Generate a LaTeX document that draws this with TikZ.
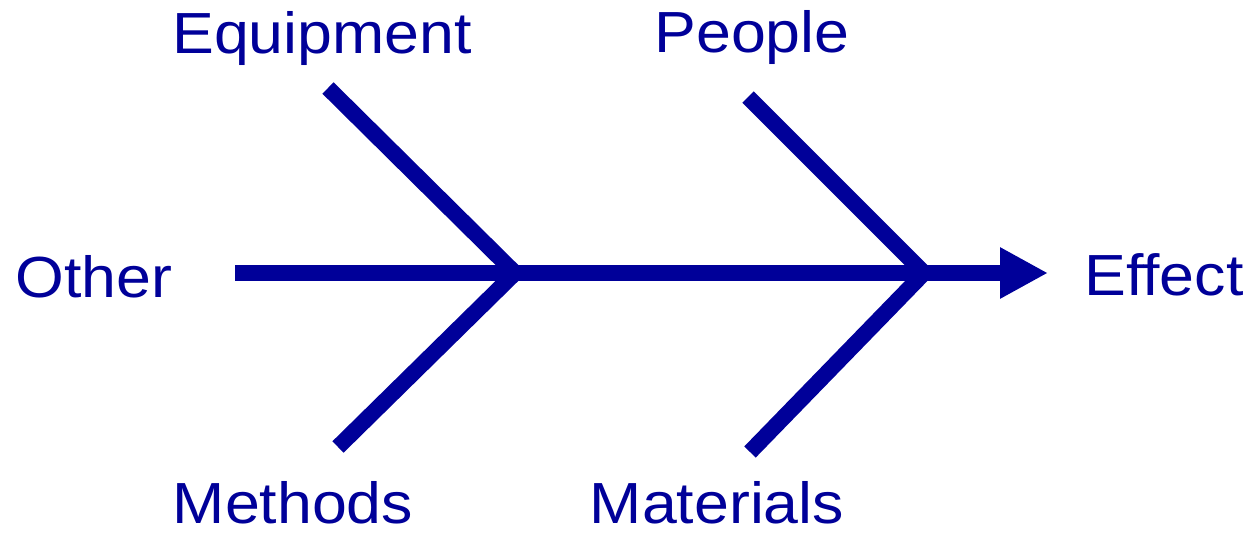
\documentclass[tikz,border=0pt]{standalone}
\usepackage{fontspec}
\setmainfont{Liberation Sans}
\usetikzlibrary{arrows.meta}
\definecolor{fishblue}{RGB}{0,0,153}
\newcommand{\widetext}[1]{\scalebox{1.08}[1]{#1}}
\begin{document}
\begin{tikzpicture}[x=1pt,y=-1pt,
  bone/.style={draw=fishblue,line width=16pt,line cap=butt,line join=miter},
  lbl/.style={text=fishblue,font=\fontsize{58}{58}\selectfont,anchor=base,inner sep=0pt}]
\useasboundingbox (0,0) rectangle (1254,533);
% coordinates
\coordinate (tail) at (235,273);
\coordinate (head) at (1048,273);
\coordinate (j1) at (515,273);
\coordinate (j2) at (924,273);
\coordinate (eqEnd) at (328,88);
\coordinate (meEnd) at (338,447);
\coordinate (peEnd) at (748,97);
\coordinate (maEnd) at (750,452);
% spine
\draw[bone,-{Triangle[length=48pt,width=48pt]}] (tail) -- (head);
% bones
\draw[bone] (eqEnd) -- (j1) -- (meEnd);
\draw[bone] (peEnd) -- (j2) -- (maEnd);
% labels
\node[lbl] (equip) at (322,53) {\widetext{Equipment}};
\node[lbl] (people) at (752,52) {\widetext{People}};
\node[lbl] (other) at (94,297) {\widetext{Other}};
\node[lbl] (effect) at (1164,295) {\widetext{Effect}};
\node[lbl] (methods) at (293,523) {\widetext{Methods}};
\node[lbl] (materials) at (717,523) {\widetext{Materials}};
\end{tikzpicture}
\end{document}
